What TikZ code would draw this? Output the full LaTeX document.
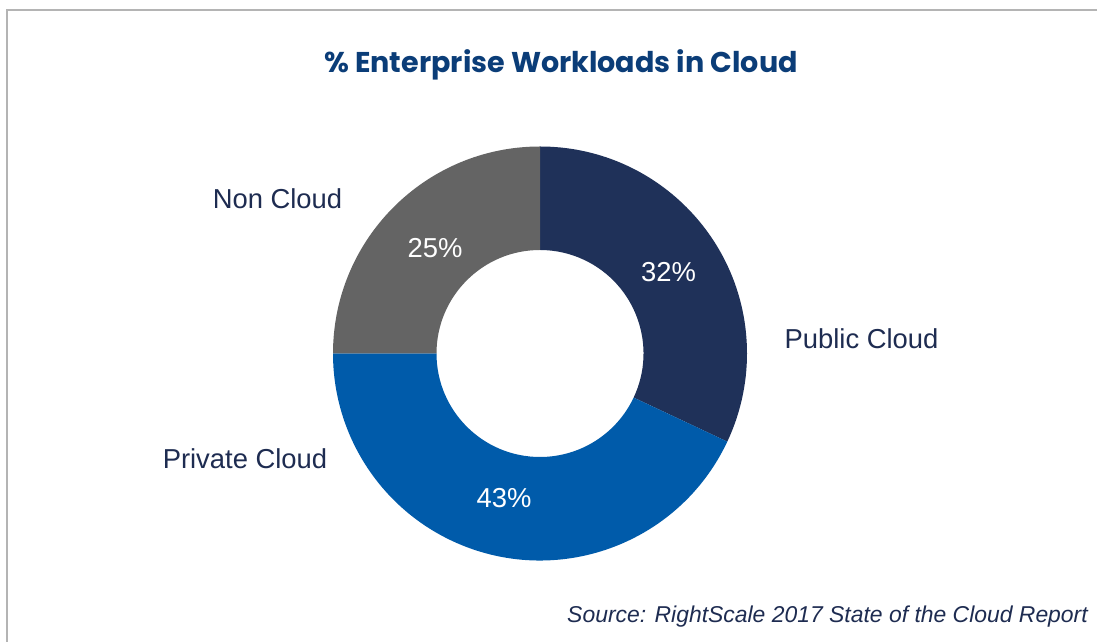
\documentclass[tikz,border=0pt]{standalone}
\usepackage{fontspec}
\setmainfont{Liberation Sans}
\newfontfamily\titlefont{Poppins}
\usetikzlibrary{calc}
\definecolor{pubc}{HTML}{1F3159}
\definecolor{privc}{HTML}{005BAA}
\definecolor{nonc}{HTML}{646464}
\definecolor{titlec}{HTML}{0B3D78}
\definecolor{labc}{HTML}{1E2C51}
\definecolor{framec}{HTML}{B4B4B4}
\tikzset{
  lab/.style={font=\fontsize{27.5}{31}\selectfont, text=labc, anchor=base, inner sep=0pt},
  pct/.style={font=\fontsize{27.5}{31}\selectfont, text=white, anchor=base, inner sep=0pt},
}
\begin{document}
\begin{tikzpicture}[x=1bp,y=1bp]
\useasboundingbox (0,0) rectangle (1097,642);
\fill[white] (0,0) rectangle (1097,642);
\draw[framec, line width=2bp] (6.5,0) -- (6.5,632) -- (1097,632);
\coordinate (c) at (540,288.5);
\def\Ro{207}
\def\Ri{103.5}
% Public Cloud 32%
\fill[pubc] ($(c)+(90:\Ro)$) arc[start angle=90, end angle=-25.2, radius=\Ro]
  -- ($(c)+(-25.2:\Ri)$) arc[start angle=-25.2, end angle=90, radius=\Ri] -- cycle;
% Private Cloud 43%
\fill[privc] ($(c)+(-25.2:\Ro)$) arc[start angle=-25.2, end angle=-180, radius=\Ro]
  -- ($(c)+(-180:\Ri)$) arc[start angle=-180, end angle=-25.2, radius=\Ri] -- cycle;
% Non Cloud 25%
\fill[nonc] ($(c)+(180:\Ro)$) arc[start angle=180, end angle=90, radius=\Ro]
  -- ($(c)+(90:\Ri)$) arc[start angle=90, end angle=180, radius=\Ri] -- cycle;
\node[font=\titlefont\bfseries\fontsize{28.7}{32}\selectfont, text=titlec, anchor=base, inner sep=0pt] (title) at (561,569) {\% Enterprise Workloads in Cloud};
\node[lab] (non) at (277.5,433) {Non Cloud};
\node[lab] (pub) at (861.5,293) {Public Cloud};
\node[lab] (priv) at (245,173) {Private Cloud};
\node[pct] (p25) at (435,384) {25\%};
\node[pct] (p32) at (668.5,360) {32\%};
\node[pct] (p43) at (504,134) {43\%};
\node[font=\itshape\fontsize{23}{26}\selectfont, text=labc, anchor=base east, inner sep=0pt] (src) at (1088,19) {Source: RightScale 2017 State of the Cloud Report};
\end{tikzpicture}
\end{document}
